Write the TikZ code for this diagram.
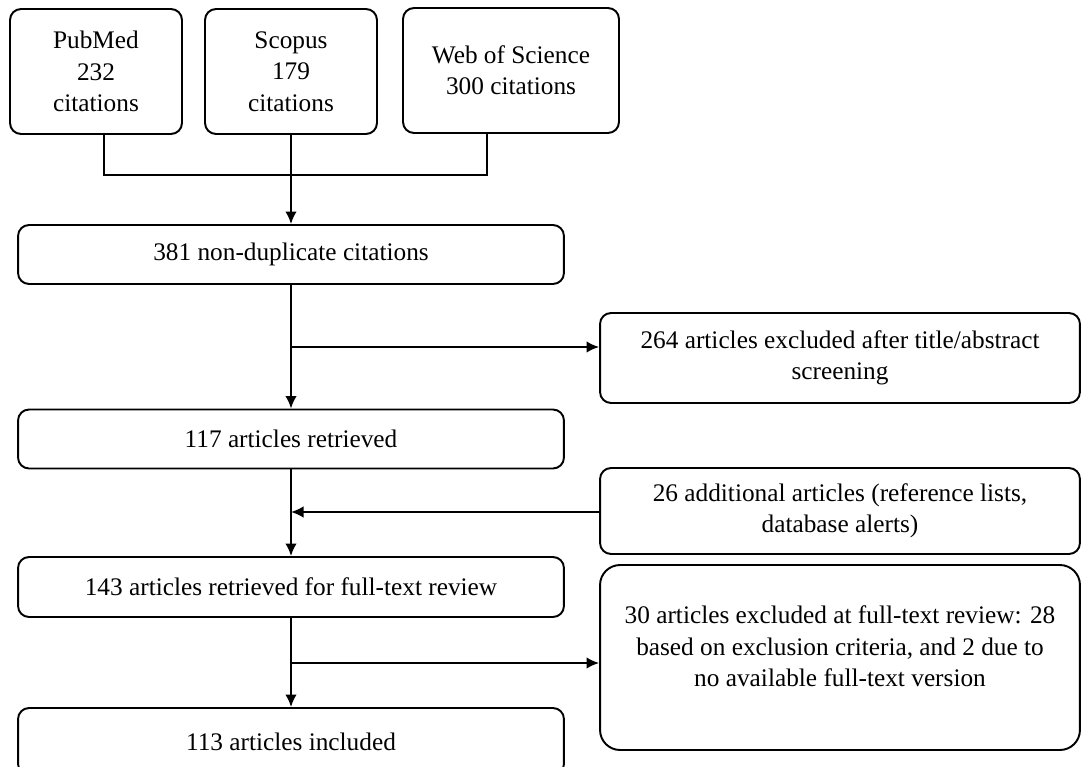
\documentclass[tikz,border=0pt]{standalone}
\usepackage{fontspec}
\setmainfont{Liberation Serif}
\usetikzlibrary{arrows.meta}
\begin{document}
\begin{tikzpicture}[x=0.02cm, y=-0.02cm, line width=1.1pt,
    box/.style={draw, rounded corners=0.22cm, align=center, inner sep=2pt,
        font=\fontsize{14.4}{17.8}\selectfont},
    src/.style={box, minimum width=3.44cm, minimum height=2.5cm},
    mainbox/.style={box, minimum width=10.92cm, minimum height=1.18cm},
    sidebox/.style={box, minimum width=9.6cm},
    arr/.style={-{Latex[length=2.5mm,width=2.3mm]}}]
    \clip (0,0) rectangle (1082,767);

    % databases
    \node[src] (pubmed) at (96,71.5) {PubMed\\232\\citations};
    \node[src] (scopus) at (291,71.5) {Scopus\\179\\citations};
    \node[src, minimum width=4.32cm] (wos) at (511,70.5) {Web of Science\\300 citations};
    \coordinate (join) at (291,175);

    % main column
    \node[mainbox] (dedup) at (291,254.5) {381 non-duplicate citations};
    \node[mainbox] (retr) at (291,439) {117 articles retrieved};
    \node[mainbox, minimum height=1.2cm] (full) at (291,587) {143 articles retrieved for full-text review};
    \node[mainbox, minimum height=1.34cm] (incl) at (291,741.5) {113 articles included};

    % side column
    \node[sidebox, minimum height=1.8cm] (screen) at (840,358) {264 articles excluded after title/abstract\\screening};
    \node[sidebox, minimum height=1.72cm] (extra) at (840,511) {26 additional articles (reference lists,\\database alerts)};
    \node[sidebox, minimum height=3.7cm, rounded corners=0.4cm, text depth=0.45cm] (fullex) at (840,657.5) {30 articles excluded at full-text review: 28\\based on exclusion criteria, and 2 due to\\no available full-text version};

    \coordinate (br1) at (291,347);
    \coordinate (br2) at (291,512);
    \coordinate (br3) at (291,663);

    \draw ([xshift=0.16cm]pubmed.south) |- (join) -| ([xshift=-0.48cm]wos.south);
    \draw[arr] (scopus) -- (dedup);
    \draw[arr] (dedup) -- (retr);
    \draw[arr] (br1) -- (br1 -| screen.west);
    \draw[arr] (retr) -- (full);
    \draw[arr] (br2 -| extra.west) -- (br2);
    \draw[arr] (full) -- (incl);
    \draw[arr] (br3) -- (br3 -| fullex.west);
\end{tikzpicture}
\end{document}
